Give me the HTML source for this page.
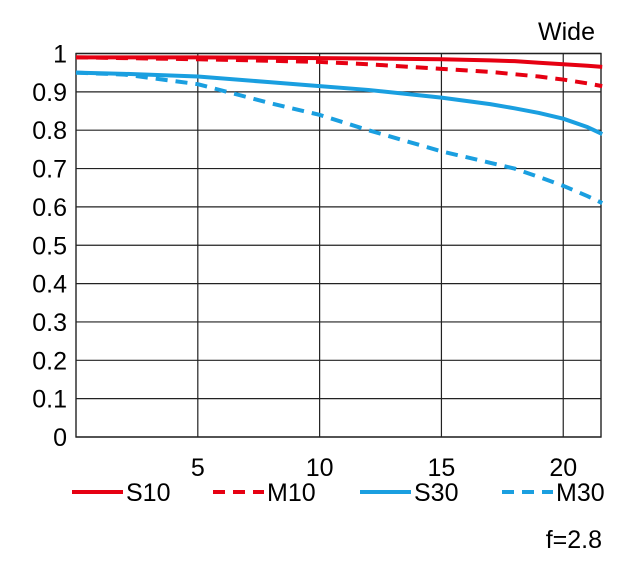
<!DOCTYPE html>
<html><head><meta charset="utf-8"><style>
body{margin:0;background:#fff;}
svg{display:block;font-family:"Liberation Sans",sans-serif;}
</style></head><body>
<svg id="c" width="640" height="568">
<text x="595" y="40" font-size="25" text-anchor="end">Wide</text>
<text x="602" y="548" font-size="25" text-anchor="end">f=2.8</text>
</svg>
<script>
const xTicks=[5,10,15,20];
const yTicks=[0,0.1,0.2,0.3,0.4,0.5,0.6,0.7,0.8,0.9,1];
const xs=[0,2,5,8,10,12,15,17,18,19,20,21,21.6];
const s10=[0.99,0.99,0.99,0.989,0.988,0.987,0.985,0.982,0.98,0.976,0.972,0.968,0.965];
const m10=[0.99,0.988,0.985,0.981,0.978,0.972,0.96,0.952,0.946,0.94,0.932,0.922,0.915];
const s30=[0.95,0.947,0.94,0.925,0.915,0.905,0.885,0.868,0.857,0.845,0.83,0.808,0.79];
const m30=[0.95,0.945,0.92,0.87,0.84,0.8,0.745,0.715,0.70,0.678,0.655,0.628,0.61];
const X0=76,X1=601,XMAX=21.55,Y0=437,Y1=53.5;
const sx=v=>X0+(X1-X0)*v/XMAX, sy=v=>Y0-(Y0-Y1)*v;
const svg=document.getElementById('c'),NS='http://www.w3.org/2000/svg';
function mk(t,a){const e=document.createElementNS(NS,t);for(const k in a)e.setAttribute(k,a[k]);svg.appendChild(e);return e;}
yTicks.forEach(v=>{
 const l=mk('line',{x1:X0,x2:X1,y1:sy(v),y2:sy(v),stroke:'#222','stroke-width':1.2});
 
 
 const t=mk('text',{x:67,y:sy(v)+9,'font-size':25,'text-anchor':'end'});t.textContent=String(v);
 
 
});
xTicks.forEach(v=>{
 const l=mk('line',{x1:sx(v),x2:sx(v),y1:Y1,y2:Y0,stroke:'#222','stroke-width':1.2});
 
 
 const t=mk('text',{x:sx(v),y:476,'font-size':25,'text-anchor':'middle'});t.textContent=String(v);
 
 
});
const b=mk('rect',{x:X0,y:Y1,width:X1-X0,height:Y0-Y1,fill:'none',stroke:'#222','stroke-width':1.4});


const series=[[s10,'#e60012',null,'S10'],[m10,'#e60012','12 8','M10'],[s30,'#1a9fe0',null,'S30'],[m30,'#1a9fe0','12 8','M30']];
series.forEach(([d,c,da,n])=>{
 const p=mk('polyline',{points:xs.map((x,i)=>sx(x)+','+sy(d[i])).join(' '),fill:'none',stroke:c,'stroke-width':4,'stroke-linejoin':'round'});
 if(da)p.setAttribute('stroke-dasharray',da);
 
 
});
const legX=[72,213,360,502];
series.forEach(([d,c,da,n],i)=>{
 const l=mk('line',{x1:legX[i],x2:legX[i]+51,y1:492,y2:492,stroke:c,'stroke-width':4});
 if(da)l.setAttribute('stroke-dasharray','12 8');
 
 
 const t=mk('text',{x:legX[i]+54,y:501,'font-size':25});t.textContent=n;
 
 
});
</script>
</body></html>
